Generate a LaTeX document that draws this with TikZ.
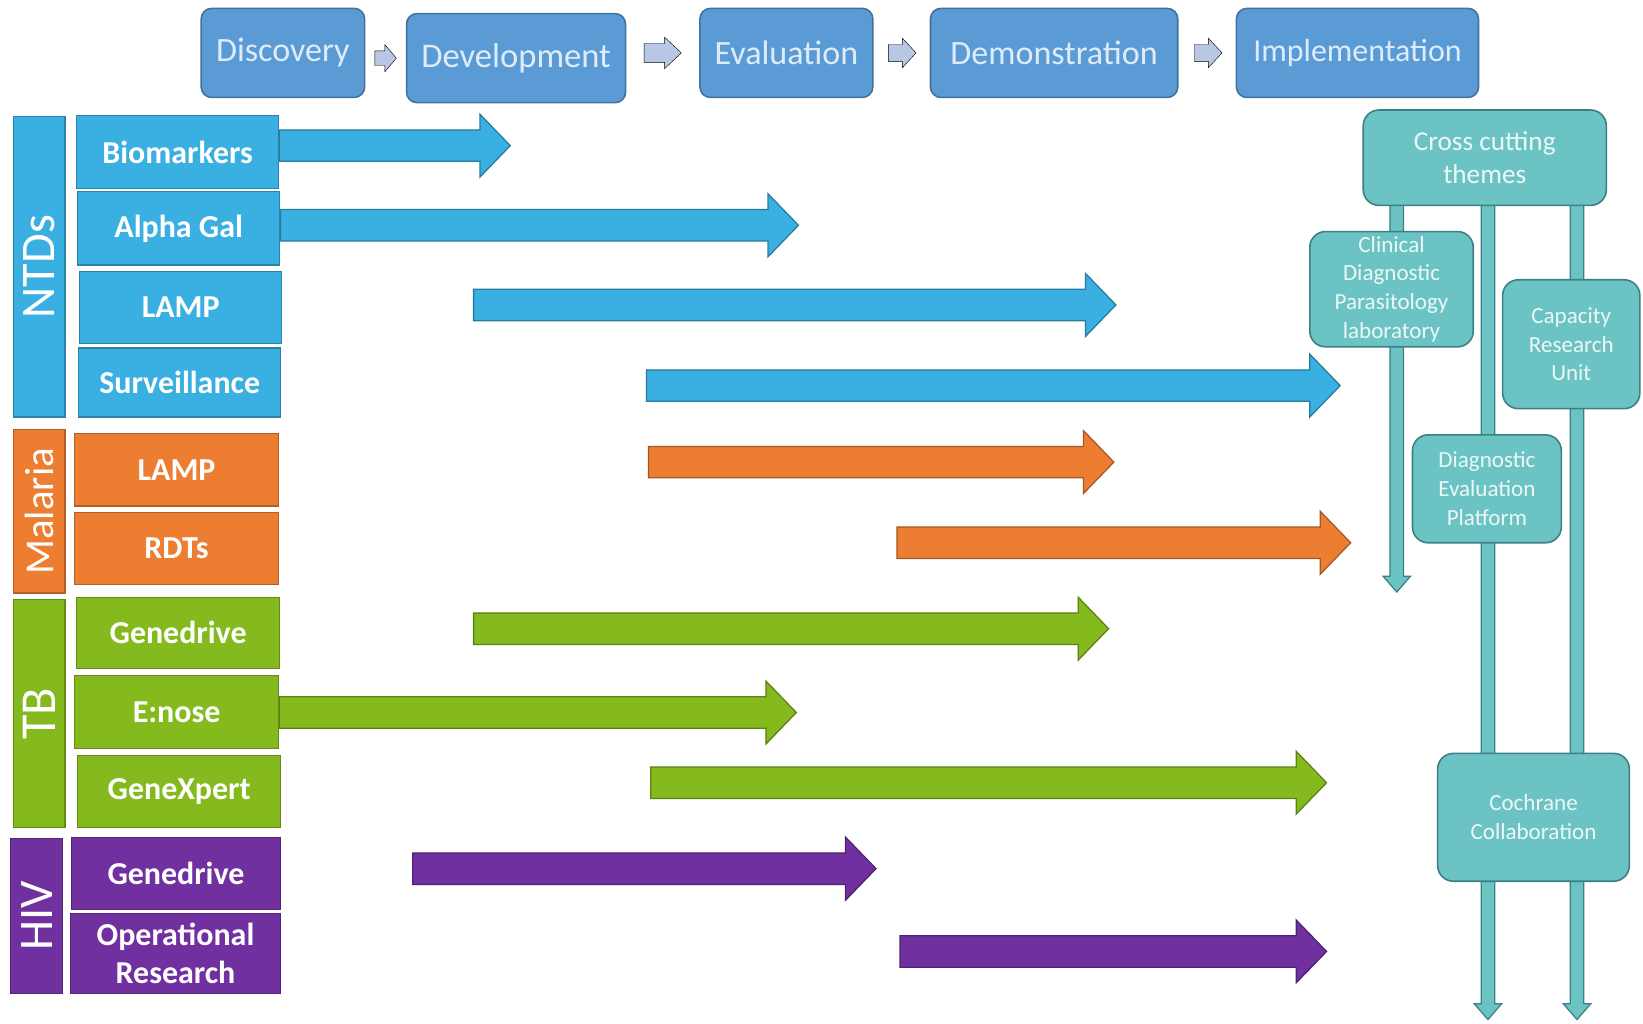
\documentclass[tikz,border=0pt]{standalone}
\usepackage{fontspec}
\setmainfont{Carlito}
\usetikzlibrary{calc}
\definecolor{stageblue}{RGB}{91,155,213}
\definecolor{stageedge}{RGB}{65,113,156}
\definecolor{stagetext}{RGB}{222,236,250}
\definecolor{ntdblue}{RGB}{58,175,225}
\definecolor{malorange}{RGB}{237,125,49}
\definecolor{tbgreen}{RGB}{132,186,29}
\definecolor{hivpurple}{RGB}{112,48,160}
\definecolor{themeteal}{RGB}{108,195,196}
\definecolor{themeedge}{RGB}{60,128,134}
\definecolor{themetext}{RGB}{236,248,248}
\definecolor{chevron}{RGB}{184,200,228}

\pgfdeclarelayer{background}
\pgfsetlayers{background,main}

% block arrow: [style] start, end, half shaft, half head, head length
\newcommand{\harrow}[6][]{%
  \draw[#1] let \p1=(#2), \p2=(#3) in
    (\x1,\y2+#4) -- (\x2-#6,\y2+#4) -- (\x2-#6,\y2+#5) -- (\x2,\y2)
    -- (\x2-#6,\y2-#5) -- (\x2-#6,\y2-#4) -- (\x1,\y2-#4) -- cycle;}
\newcommand{\trackarrow}[3]{\harrow[itemarrow=#3]{#1}{#2}{15pt}{30pt}{29pt}}
% downward theme line: start node, end coordinate
\newcommand{\varrow}[2]{%
  \draw[themeline] let \p1=(#1), \p2=(#2) in
    (\x2-6.5pt,\y1) -- (\x2-6.5pt,\y2+15pt) -- (\x2-13pt,\y2+15pt) -- (\x2,\y2)
    -- (\x2+13pt,\y2+15pt) -- (\x2+6.5pt,\y2+15pt) -- (\x2+6.5pt,\y1) -- cycle;}

\tikzset{
  stagebox/.style={rounded corners=10pt, draw=stageedge, line width=1.5pt, fill=stageblue,
    text=stagetext, font=\fontsize{32.5}{38}\selectfont, inner sep=0pt, minimum height=85pt},
  groupbar/.style={draw=#1!75!black, line width=1.2pt, fill=#1, text=white, rotate=90,
    font=\fontsize{46}{50}\selectfont, inner sep=0pt, minimum height=49pt},
  itembox/.style={draw=#1!75!black, line width=1.2pt, fill=#1, text=white, align=center,
    font=\bfseries\fontsize{30.5}{36}\selectfont, inner sep=0pt},
  themebox/.style={rounded corners=15pt, draw=themeedge, line width=1.5pt, fill=themeteal,
    text=themetext, align=center, font=\fontsize{22}{27.5}\selectfont, inner sep=0pt},
  itemarrow/.style={draw=#1!70!black, line width=1.2pt, fill=#1},
  stagearrow/.style={fill=chevron},
  themeline/.style={draw=themeedge, line width=1.2pt, fill=themeteal}
}

\begin{document}
\begin{tikzpicture}[x=1pt, y=-1pt]
\useasboundingbox (0,0) rectangle (1568,977);

% Pipeline stages
\node[stagebox, minimum width=156pt] (disc) at (270,50.5) {Discovery};
\node[stagebox, minimum width=209pt, font=\fontsize{33}{40}\selectfont] (dev) at (492.5,55.5) {Development};
\node[stagebox, minimum width=165pt] (eval) at (750.5,50.5) {Evaluation};
\node[stagebox, minimum width=236pt] (demo) at (1006,50.5) {Demonstration};
\node[stagebox, minimum width=231pt, font=\fontsize{30.5}{36}\selectfont] (impl) at (1295.5,50.5) {Implementation};

\harrow[stagearrow]{[xshift=9pt]disc.east}{[xshift=-9pt]dev.west}{7pt}{13pt}{11pt}
\harrow[stagearrow]{[xshift=17pt]dev.east}{[xshift=-17pt]eval.west}{9pt}{15pt}{16pt}
\harrow[stagearrow]{[xshift=14pt]eval.east}{[xshift=-13pt]demo.west}{8pt}{14pt}{13pt}
\harrow[stagearrow]{[xshift=15pt]demo.east}{[xshift=-13pt]impl.west}{8pt}{14pt}{13pt}

% Disease groups
\node[groupbar=ntdblue, minimum width=287pt] (ntd) at (37.5,254.5) {NTDs};
\node[groupbar=malorange, minimum width=156pt, font=\fontsize{39}{42}\selectfont] (mal) at (37.5,488) {Malaria};
\node[groupbar=tbgreen, minimum width=218pt, font=\fontsize{48}{50}\selectfont] (tb) at (37.5,681) {TB};
\node[groupbar=hivpurple, minimum width=148pt, minimum height=50pt] (hiv) at (35,874) {HIV};

% Projects
\node[itembox=ntdblue, minimum width=193pt, minimum height=70pt] (bio) at (169.5,145) {Biomarkers};
\node[itembox=ntdblue, minimum width=193pt, minimum height=70pt] (alpha) at (170.5,218) {Alpha Gal};
\node[itembox=ntdblue, minimum width=193pt, minimum height=69pt] (ntdlamp) at (172.5,293.5) {LAMP};
\node[itembox=ntdblue, minimum width=193pt, minimum height=66pt] (surv) at (171.5,365) {Surveillance};
\node[itembox=malorange, minimum width=195pt, minimum height=69pt] (mallamp) at (168.5,448.5) {LAMP};
\node[itembox=malorange, minimum width=195pt, minimum height=69pt] (rdt) at (168.5,523.5) {RDTs};
\node[itembox=tbgreen, minimum width=194pt, minimum height=68pt] (tbgene) at (170,604) {Genedrive};
\node[itembox=tbgreen, minimum width=195pt, minimum height=69pt] (enose) at (168.5,679.5) {E:nose};
\node[itembox=tbgreen, minimum width=194pt, minimum height=69pt] (genex) at (171,755.5) {GeneXpert};
\node[itembox=hivpurple, minimum width=200pt, minimum height=69pt] (hivgene) at (168,833.5) {Genedrive};
\node[itembox=hivpurple, minimum width=201pt, minimum height=76pt] (opres) at (167.5,910) {Operational\\Research};

% Cross cutting themes
\node[themebox, minimum width=232pt, minimum height=91pt, font=\fontsize{26}{31}\selectfont] (cross) at (1417,150.5) {Cross cutting\\themes};
\node[themebox, minimum width=156pt, minimum height=110pt] (cdp) at (1328,276) {Clinical\\Diagnostic\\Parasitology\\laboratory};
\node[themebox, minimum width=131pt, minimum height=123pt] (cru) at (1499.5,328.5) {Capacity\\Research\\Unit};
\node[themebox, minimum width=142pt, minimum height=103pt] (dep) at (1419,466.5) {Diagnostic\\Evaluation\\Platform};
\node[themebox, minimum width=183pt, minimum height=122pt] (coch) at (1463.5,780) {Cochrane\\Collaboration};

% Arrow ends
\coordinate (bioEnd) at (487,139);
\coordinate (alphaEnd) at (762,215);
\coordinate (ntdlampStart) at (452,291);   \coordinate (ntdlampEnd) at (1065,291);
\coordinate (survStart) at (617,368);      \coordinate (survEnd) at (1279,368);
\coordinate (mallampStart) at (619,441);   \coordinate (mallampEnd) at (1063,441);
\coordinate (rdtStart) at (856,518);       \coordinate (rdtEnd) at (1289,518);
\coordinate (tbgeneStart) at (452,600);    \coordinate (tbgeneEnd) at (1058,600);
\coordinate (enoseEnd) at (760,680);
\coordinate (genexStart) at (621,747);     \coordinate (genexEnd) at (1266,747);
\coordinate (hivgeneStart) at (394,829);   \coordinate (hivgeneEnd) at (836,829);
\coordinate (opresStart) at (859,908);     \coordinate (opresEnd) at (1266,908);
\coordinate (cdpEnd) at (1333,565);
\coordinate (depEnd) at (1420,973);
\coordinate (cruEnd) at (1505,973);

\begin{pgfonlayer}{background}
\trackarrow{bio.east}{bioEnd}{ntdblue}
\trackarrow{alpha.east}{alphaEnd}{ntdblue}
\trackarrow{ntdlampStart}{ntdlampEnd}{ntdblue}
\trackarrow{survStart}{survEnd}{ntdblue}
\trackarrow{mallampStart}{mallampEnd}{malorange}
\trackarrow{rdtStart}{rdtEnd}{malorange}
\trackarrow{tbgeneStart}{tbgeneEnd}{tbgreen}
\trackarrow{enose.east}{enoseEnd}{tbgreen}
\trackarrow{genexStart}{genexEnd}{tbgreen}
\trackarrow{hivgeneStart}{hivgeneEnd}{hivpurple}
\trackarrow{opresStart}{opresEnd}{hivpurple}

% theme lines behind the boxes
\varrow{cross}{cdpEnd}
\varrow{cross}{depEnd}
\varrow{cross}{cruEnd}
\end{pgfonlayer}
\end{tikzpicture}
\end{document}
